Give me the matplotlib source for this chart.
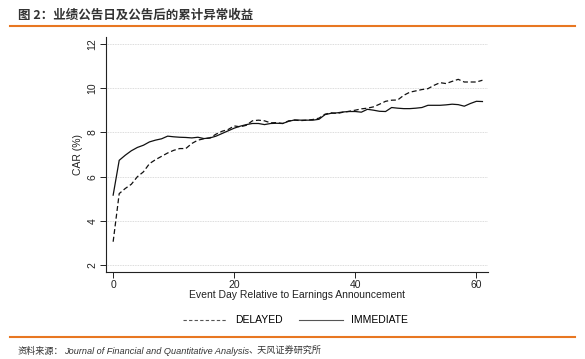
import matplotlib
matplotlib.use('Agg')
import matplotlib.pyplot as plt
from matplotlib.lines import Line2D
import numpy as np

plt.rcParams['font.family'] = ['Liberation Sans', 'Noto Sans CJK SC', 'DejaVu Sans']
plt.rcParams['axes.unicode_minus'] = False

# 事件日 0..61
days = list(range(62))

# 延迟组 (虚线)
delayed = [3.07, 5.24, 5.47, 5.66, 6.00, 6.22, 6.59, 6.77, 6.92, 7.07,
           7.19, 7.27, 7.27, 7.50, 7.65, 7.71, 7.75, 7.92, 8.05, 8.13,
           8.29, 8.25, 8.32, 8.52, 8.55, 8.52, 8.43, 8.44, 8.40, 8.52,
           8.55, 8.53, 8.55, 8.58, 8.64, 8.82, 8.88, 8.85, 8.91, 8.95,
           9.00, 9.06, 9.09, 9.15, 9.27, 9.40, 9.45, 9.46, 9.67, 9.81,
           9.87, 9.93, 9.97, 10.12, 10.24, 10.20, 10.30, 10.39, 10.27, 10.27,
           10.27, 10.35]

# 即时组 (实线)
immediate = [5.17, 6.74, 6.97, 7.17, 7.32, 7.42, 7.57, 7.65, 7.71, 7.83,
             7.80, 7.78, 7.77, 7.75, 7.78, 7.72, 7.75, 7.83, 7.95, 8.07,
             8.19, 8.28, 8.35, 8.40, 8.40, 8.35, 8.40, 8.41, 8.40, 8.50,
             8.56, 8.55, 8.55, 8.55, 8.59, 8.80, 8.86, 8.88, 8.92, 8.94,
             8.94, 8.91, 9.04, 9.00, 8.95, 8.94, 9.12, 9.09, 9.07, 9.07,
             9.09, 9.12, 9.22, 9.22, 9.22, 9.24, 9.27, 9.25, 9.18, 9.30,
             9.40, 9.39]

x_ticks = [0, 20, 40, 60]
y_ticks = [2, 4, 6, 8, 10, 12]

fig = plt.figure(figsize=(5.85, 3.59), dpi=100)
fig.patch.set_facecolor('white')

ax = fig.add_axes([0.181, 0.242, 0.653, 0.655])
ax.plot(days, delayed, color='#111111', lw=0.9, dashes=(4, 2.2))
ax.plot(days, immediate, color='#111111', lw=0.9)

ax.set_xlim(-1.2, 61.9)
ax.set_ylim(1.7, 12.3)
ax.set_xticks(x_ticks)
ax.set_yticks(y_ticks)
ax.yaxis.grid(True, linestyle=(0, (1, 1)), color='#d0d0d0', lw=0.6)
ax.set_axisbelow(True)
for s in ['top', 'right']:
    ax.spines[s].set_visible(False)
for s in ['left', 'bottom']:
    ax.spines[s].set_color('#222222')
    ax.spines[s].set_linewidth(0.8)
ax.tick_params(axis='both', labelsize=7.5, colors='#222222', length=4, width=0.7, pad=2)
for lab in ax.get_yticklabels():
    lab.set_rotation(90)
    lab.set_va('center')
ax.set_ylabel('CAR (%)', fontsize=7.5, color='#222222', labelpad=3)
ax.set_xlabel('Event Day Relative to Earnings Announcement', fontsize=7.5,
              color='#222222', labelpad=0)

handles = [Line2D([], [], color='#555555', lw=0.8, dashes=(3, 2)),
           Line2D([], [], color='#555555', lw=0.8)]
fig.legend(handles, ['DELAYED', 'IMMEDIATE'], loc='center',
           bbox_to_anchor=(0.505, 0.108), ncol=2, frameon=False,
           fontsize=7.5, handlelength=4.2, columnspacing=1.6, handletextpad=0.8)

# 标题和橙色分隔线
fig.text(18 / 585, 1 - 15 / 359, '图 2：业绩公告日及公告后的累计异常收益',
         family=['Noto Sans CJK SC', 'DejaVu Sans'], fontsize=9,
         fontweight='bold', color='#333333', va='center')
fig.add_artist(Line2D([10 / 585, 575 / 585], [1 - 26 / 359] * 2, color='#e87722', lw=1.5))
fig.add_artist(Line2D([10 / 585, 575 / 585], [1 - 337 / 359] * 2, color='#e87722', lw=1.5))

# 资料来源
fig.canvas.draw()
renderer = fig.canvas.get_renderer()
yy = 1 - 351 / 359
t1 = fig.text(18 / 585, yy, '资料来源：', family=['Noto Sans CJK SC'], fontsize=6.6,
              color='#333333', va='center')
w1 = t1.get_window_extent(renderer).x1
t2 = fig.text(w1 / 585, yy, 'Journal of Financial and Quantitative Analysis',
              family=['Liberation Sans'], style='italic', fontsize=6.6,
              color='#333333', va='center')
w2 = t2.get_window_extent(renderer).x1
fig.text(w2 / 585, yy, '、天风证券研究所', family=['Noto Sans CJK SC'], fontsize=6.6,
         color='#333333', va='center')

fig.savefig('out.png', dpi=100)
